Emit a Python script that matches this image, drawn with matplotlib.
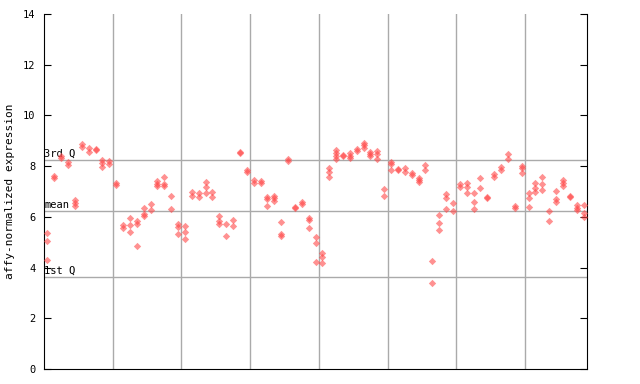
import matplotlib
matplotlib.use("Agg")
import matplotlib.pyplot as plt

# expression values per sample (replicates)
samples = [
    [5.35, 5.04, 4.29], [7.60, 7.52], [8.40, 8.31], [8.15, 8.05], [6.66, 6.53, 6.44],
    [8.87, 8.74], [8.70, 8.57], [8.67, 8.62], [8.24, 8.11, 7.98], [8.22, 8.08],
    [7.32, 7.26], [5.68, 5.57], [5.94, 5.68, 5.41], [5.84, 5.71, 4.84], [6.34, 6.12, 6.05],
    [6.52, 6.26], [7.41, 7.31, 7.20], [7.56, 7.28, 7.20], [6.81, 6.30], [5.71, 5.61, 5.31],
    [5.64, 5.39, 5.11], [7.00, 6.82], [6.95, 6.79], [7.39, 7.19, 6.93], [7.00, 6.79],
    [6.03, 5.84, 5.73], [5.71, 5.26], [5.86, 5.65], [8.55, 8.50], [7.85, 7.76],
    [7.45, 7.35], [7.40, 7.33], [6.78, 6.70, 6.41], [6.81, 6.73, 6.63], [5.78, 5.34, 5.25],
    [8.28, 8.20], [6.38, 6.34], [6.57, 6.51], [5.94, 5.86, 5.55], [5.19, 4.95, 4.21],
    [4.57, 4.42, 4.18], [7.91, 7.78, 7.58], [8.64, 8.51, 8.40, 8.28], [8.43, 8.40], [8.53, 8.41, 8.31],
    [8.68, 8.60], [8.93, 8.83, 8.73], [8.57, 8.48, 8.41], [8.60, 8.48, 8.27], [7.09, 6.81],
    [8.15, 8.07, 7.83], [7.89, 7.85], [7.91, 7.78], [7.72, 7.65], [7.55, 7.45, 7.36],
    [8.04, 7.83], [4.27, 3.38], [6.07, 5.74, 5.47], [6.90, 6.73, 6.30], [6.53, 6.22],
    [7.28, 7.19], [7.32, 7.19, 6.93], [6.93, 6.57, 6.31], [7.52, 7.13], [6.80, 6.76],
    [7.68, 7.57], [7.98, 7.85], [8.48, 8.28], [6.44, 6.36], [8.02, 7.91, 7.72],
    [6.95, 6.73, 6.38], [7.32, 7.15, 7.00], [7.56, 7.28, 7.05], [6.23, 5.82], [7.01, 6.69, 6.59],
    [7.45, 7.35, 7.22], [6.84, 6.80], [6.47, 6.36, 6.26], [6.46, 6.17, 5.98],
]
q3 = 8.23
mean_val = 6.23
q1 = 3.63
yticks = [0, 2, 4, 6, 8, 10, 12, 14]

plt.rcParams['font.family'] = ['DejaVu Sans Mono']
fig = plt.figure(figsize=(6.4, 3.84), dpi=100)
ax = fig.add_axes([44/640, 15/384, 543/640, 355/384])

n = len(samples)
for i, vals in enumerate(samples):
    ax.scatter([i] * len(vals), vals, marker='D', s=14, color='#ff4848',
               alpha=0.6, linewidths=0, zorder=3)

for xg in range(9, n - 1, 10):
    ax.axvline(xg + 0.5, color='#aaaaaa', lw=1, zorder=1)
for yv, lab in [(q3, '3rd Q'), (mean_val, 'mean'), (q1, '1st Q')]:
    ax.axhline(yv, color='#aaaaaa', lw=1, zorder=1)
    ax.text(-0.45, yv + 0.05, lab, fontsize=7.5, va='bottom', ha='left', zorder=2)

ax.set_xlim(-0.5, n - 0.5)
ax.set_ylim(0, 14)
ax.set_yticks(yticks)
ax.set_xticks([])
ax.tick_params(axis='y', direction='in', length=5, labelsize=7.5, right=True, pad=6)
ax.spines['top'].set_visible(False)
ax.set_ylabel('affy-normalized expression', fontsize=8, labelpad=6)

fig.savefig('out.png', dpi=100)
